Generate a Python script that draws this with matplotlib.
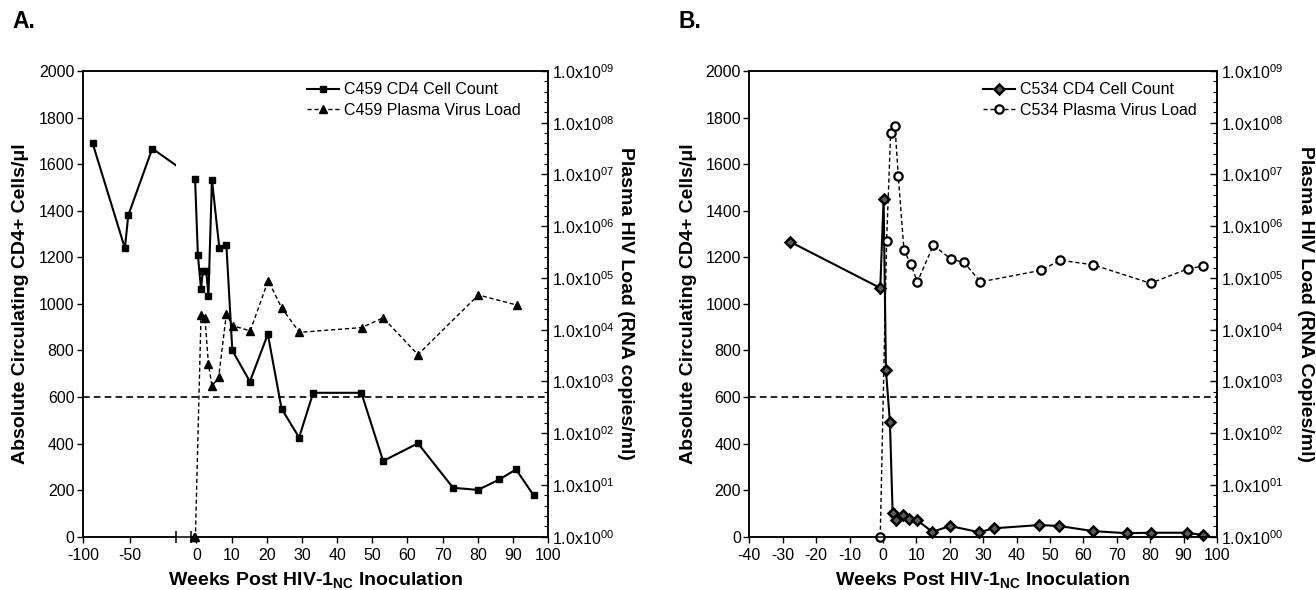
import matplotlib
matplotlib.use("Agg")
import matplotlib.pyplot as plt
import numpy as np
from matplotlib.patches import Rectangle
from matplotlib.ticker import FixedLocator, FuncFormatter, NullFormatter

plt.rcParams['font.family'] = ['Liberation Sans', 'DejaVu Sans']
plt.rcParams['mathtext.fontset'] = 'custom'
plt.rcParams['mathtext.rm'] = 'Liberation Sans'
plt.rcParams['mathtext.bf'] = 'Liberation Sans:bold'
plt.rcParams['mathtext.default'] = 'regular'
plt.rcParams['axes.unicode_minus'] = False

# Panel A: animal C459
a_cd4_pre_wk = [-89.6, -55.0, -51.4, -25.7]
a_cd4_pre = [1691, 1239, 1380, 1667]
a_cd4_wk = [-0.4, 0.4, 1.3, 1.8, 2.8, 3.4, 4.4, 6.5, 8.5, 10.2, 15.2, 20.3, 24.2,
            29.2, 33.2, 46.9, 53.1, 63.0, 73.0, 80.1, 86.2, 90.9, 95.9]
a_cd4 = [1537, 1210, 1063, 1140, 1140, 1034, 1533, 1240, 1254, 800, 666, 870, 550,
         426, 618, 618, 325, 401, 210, 201, 246, 289, 178]
a_vl_wk = [-0.8, -0.3, 1.3, 2.4, 3.4, 4.4, 6.3, 8.5, 10.3, 15.3, 20.4, 24.3, 29.3,
           47.0, 53.1, 63.0, 80.2, 91.1]
a_vl = [1, 1, 1.9e4, 1.7e4, 2.2e3, 8.1e2, 1.2e3, 2.0e4, 1.2e4, 9.5e3, 8.9e4, 2.6e4,
        8.9e3, 1.1e4, 1.7e4, 3.3e3, 4.7e4, 3.0e4]

# Panel B: animal C534
b_cd4_wk = [-27.7, -0.8, 0.2, 0.9, 2.1, 2.9, 3.8, 5.9, 7.9, 10.1, 14.8, 20.1, 28.9,
            33.1, 46.8, 52.8, 62.9, 73.0, 80.1, 91.0, 95.8]
b_cd4 = [1266, 1068, 1449, 715, 491, 103, 72, 93, 75, 72, 21, 46, 19, 36, 50, 46,
         24, 15, 17, 17, 7]
b_vl_wk = [-0.8, 1.1, 2.3, 3.6, 4.6, 6.3, 8.3, 10.3, 15.1, 20.4, 24.3, 29.2, 47.2,
           53.1, 62.9, 80.1, 91.2, 95.8]
b_vl = [1, 5.2e5, 6.2e7, 8.6e7, 9.3e6, 3.4e5, 1.9e5, 8.4e4, 4.3e5, 2.3e5, 2.0e5,
        8.4e4, 1.4e5, 2.2e5, 1.8e5, 7.9e4, 1.5e5, 1.7e5]

detect_limit = 500  # copies/ml

cd4_ticks = np.arange(0, 2001, 200)
a_xticks = [-100, -50, 0, 10, 20, 30, 40, 50, 60, 70, 80, 90, 100]
b_xticks = np.arange(-40, 101, 10)


# broken x axis for panel A: pre-inoculation weeks squeezed on the left
def fwd(x):
    x = np.asarray(x, dtype=float)
    return np.where(x < -10, (x + 100) * 0.934,
                    np.where(x < -1.5, 84.06 + (x + 10) * (24.14 / 8.5),
                             113.5 + x * 3.51))


def inv(u):
    u = np.asarray(u, dtype=float)
    return np.where(u < 84.06, u / 0.934 - 100,
                    np.where(u < 108.2, -10 + (u - 84.06) * (8.5 / 24.14),
                             (u - 113.5) / 3.51))


x_break = float(inv(92.9))
x_resume = -1.5


def vl_fmt(v, pos):
    return r'1.0x10$^{%02d}$' % int(round(np.log10(v)))


def style_axes(ax, ax2, xlim, xticks):
    ax.set_xlim(*xlim)
    ax.set_ylim(0, 2000)
    ax.set_yticks(cd4_ticks)
    ax.set_xticks(xticks)
    ax.tick_params(axis='both', direction='out', length=4, width=1,
                   labelsize=11.5, pad=2)
    ax.tick_params(axis='x', pad=4)
    ax2.set_yscale('log')
    ax2.set_ylim(1, 1e9)
    ax2.yaxis.set_major_locator(FixedLocator([10.0 ** k for k in range(10)]))
    ax2.yaxis.set_major_formatter(FuncFormatter(vl_fmt))
    minors = [10.0 ** (k + 0.2 * j) for k in range(9) for j in range(1, 5)]
    ax2.yaxis.set_minor_locator(FixedLocator(minors))
    ax2.yaxis.set_minor_formatter(NullFormatter())
    ax2.tick_params(axis='y', which='major', direction='in', length=5, width=1,
                    labelsize=11.5, pad=3)
    ax2.tick_params(axis='y', which='minor', direction='in', length=3, width=0.8)
    for a in (ax, ax2):
        for s in a.spines.values():
            s.set_linewidth(1.1)


fig = plt.figure(figsize=(13.16, 5.9), dpi=100)
bottom = (590 - 536.7) / 590
height = (536.7 - 71) / 590
axA = fig.add_axes([82.8 / 1316, bottom, (548 - 82.8) / 1316, height])
axB = fig.add_axes([749.3 / 1316, bottom, (1217 - 749.3) / 1316, height])

# ---------------- Panel A ----------------
axA.set_xscale('function', functions=(fwd, inv))
axA2 = axA.twinx()
style_axes(axA, axA2, (-100, 100), a_xticks)

pre_line, = axA.plot(a_cd4_pre_wk + a_cd4_wk[:1], a_cd4_pre + a_cd4[:1],
                     color='black', lw=1.5, marker='s', ms=4.8)
pre_line.set_clip_path(Rectangle((-100, -100), x_break + 100, 2300,
                                 transform=axA.transData))
la1, = axA.plot(a_cd4_wk, a_cd4, color='black', lw=1.5, marker='s', ms=4.8,
                label='C459 CD4 Cell Count', clip_on=False)
la2, = axA2.plot(a_vl_wk, a_vl, color='black', lw=1.0, ls=(0, (3, 2)),
                 marker='^', ms=5.5, label='C459 Plasma Virus Load', clip_on=False)
axA2.axhline(detect_limit, color='black', lw=1.2, ls=(0, (4, 2.5)))

# axis break on the bottom spine
axA.spines['bottom'].set_visible(False)
xt = axA.get_xaxis_transform()
axA.plot([-100, x_break], [0, 0], color='black', lw=1.1, transform=xt, clip_on=False)
axA.plot([x_resume, 100], [0, 0], color='black', lw=1.1, transform=xt, clip_on=False)
axA.plot([x_break, x_resume], [0, 0], ls='none', marker='|', ms=8, mew=1.1,
         color='black', transform=xt, clip_on=False)

axA.legend(handles=[la1, la2], loc='upper right', bbox_to_anchor=(0.965, 1.0),
           frameon=False, fontsize=11.5, handlelength=2.0, handletextpad=0.3,
           labelspacing=0.35, borderaxespad=0.3)

axA.set_xlabel('Weeks Post HIV-1$_{\\mathbf{NC}}$ Inoculation', fontsize=14,
               fontweight='bold')
axA.xaxis.set_label_coords(0.5, -0.072)
axA.set_ylabel('Absolute Circulating CD4+ Cells/μl', fontsize=14, fontweight='bold')
axA.yaxis.set_label_coords(-0.115, 0.5)
axA2.set_ylabel('Plasma HIV Load (RNA copies/ml)', fontsize=14, fontweight='bold',
                rotation=270, va='bottom')
axA2.yaxis.set_label_coords(1.148, 0.5)

# ---------------- Panel B ----------------
axB2 = axB.twinx()
style_axes(axB, axB2, (-40, 100), b_xticks)

lb1, = axB.plot(b_cd4_wk, b_cd4, color='black', lw=1.5, marker='D', ms=5.5,
                mfc='0.35', mec='black', mew=1.8, label='C534 CD4 Cell Count',
                clip_on=False)
lb2, = axB2.plot(b_vl_wk, b_vl, color='black', lw=1.0, ls=(0, (3, 2)),
                 marker='o', ms=6, mfc='white', mec='black', mew=1.6,
                 label='C534 Plasma Virus Load', clip_on=False)
axB2.axhline(detect_limit, color='black', lw=1.2, ls=(0, (4, 2.5)))

axB.legend(handles=[lb1, lb2], loc='upper right', bbox_to_anchor=(0.98, 1.0),
           frameon=False, fontsize=11.5, handlelength=2.0, handletextpad=0.3,
           labelspacing=0.35, borderaxespad=0.3)

axB.set_xlabel('Weeks Post HIV-1$_{\\mathbf{NC}}$ Inoculation', fontsize=14,
               fontweight='bold')
axB.xaxis.set_label_coords(0.5, -0.072)
axB.set_ylabel('Absolute Circulating CD4+ Cells/μl', fontsize=14, fontweight='bold')
axB.yaxis.set_label_coords(-0.112, 0.5)
axB2.set_ylabel('Plasma HIV Load (RNA Copies/ml)', fontsize=14, fontweight='bold',
                rotation=270, va='bottom')
axB2.yaxis.set_label_coords(1.171, 0.5)

fig.text(12 / 1316, 1 - 22 / 590, 'A.', fontsize=16.5, fontweight='bold', va='center')
fig.text(679 / 1316, 1 - 22 / 590, 'B.', fontsize=16.5, fontweight='bold', va='center')

fig.savefig('out.png', dpi=100)
